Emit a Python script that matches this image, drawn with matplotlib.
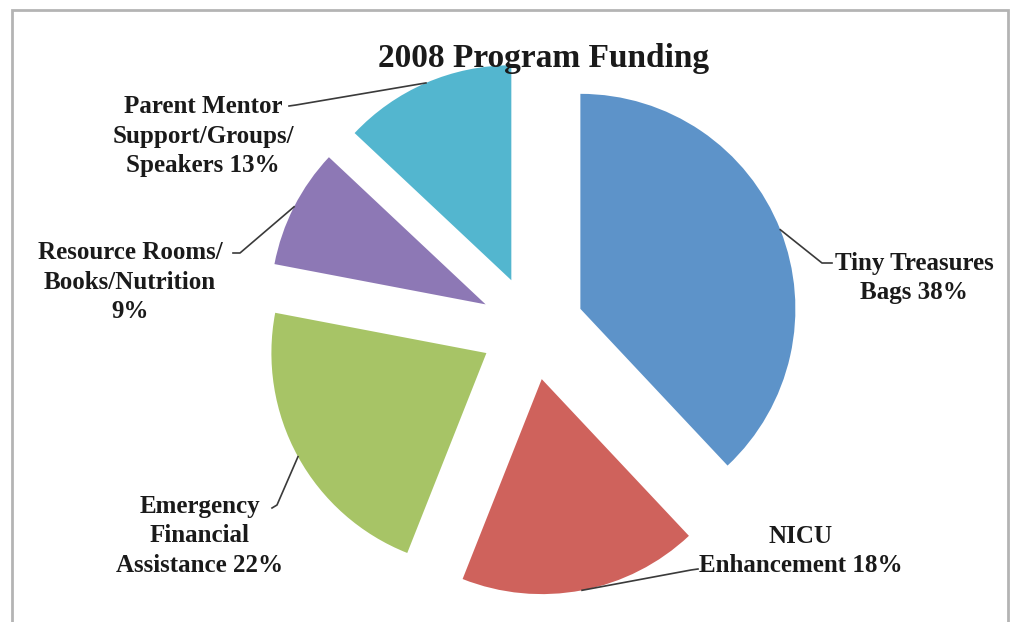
import numpy as np
import matplotlib
matplotlib.use('Agg')
import matplotlib.pyplot as plt
from matplotlib.patches import Rectangle

# 数据
categories = ['Tiny Treasures Bags', 'NICU Enhancement', 'Emergency Financial Assistance',
              'Resource Rooms/Books/Nutrition', 'Parent Mentor Support/Groups/Speakers']
shares = [38, 18, 22, 9, 13]
colors = ['#5D93C9', '#CF625C', '#A7C466', '#8D78B5', '#53B6CF']

W, H = 1016, 622
CX, CY, R = 532, 328, 215   # 饼图中心与半径（像素）


def to_data(px, py):
    return (px - CX) / R, (CY - py) / R


plt.rcParams['font.family'] = ['Liberation Serif', 'DejaVu Serif']

fig = plt.figure(figsize=(W / 100, H / 100), dpi=100)
ax = fig.add_axes([0, 0, 1, 1])

wedges, _ = ax.pie(shares, colors=colors, startangle=90, counterclock=False,
                   explode=[0.242] * len(shares), radius=1,
                   wedgeprops=dict(linewidth=0))
ax.set_xlim(-CX / R, (W - CX) / R)
ax.set_ylim(-(H - CY) / R, CY / R)
ax.axis('off')

# 外框
fig.patches.append(Rectangle((12 / W, -0.1), (1008 - 12) / W, 1.1 - 10 / H,
                             transform=fig.transFigure, fill=False,
                             edgecolor='#b4b4b4', linewidth=2))

ax.text(*to_data(544, 58), '2008 Program Funding', ha='center', va='center',
        fontsize=24, fontweight='bold', color='#1a1a1a')

# 标签位置（像素）与引线折点
labels = [f'Tiny Treasures\nBags {shares[0]}%',
          f'NICU\nEnhancement {shares[1]}%',
          f'Emergency\nFinancial\nAssistance {shares[2]}%',
          f'Resource Rooms/\nBooks/Nutrition\n{shares[3]}%',
          f'Parent Mentor\nSupport/Groups/\nSpeakers {shares[4]}%']
label_pos = [(914, 278), (801, 551), (200, 536), (130, 282), (203, 136)]
leader_pts = [[(822, 263), (832, 263)],
              [(691, 570), (698, 569)],
              [(277, 505), (272, 508)],
              [(240, 253), (233, 253)],
              [(296, 105), (289, 106)]]

for w, lab, pos, pts in zip(wedges, labels, label_pos, leader_pts):
    mid = np.deg2rad((w.theta1 + w.theta2) / 2)
    x0 = w.center[0] + w.r * np.cos(mid)
    y0 = w.center[1] + w.r * np.sin(mid)
    xs = [x0] + [to_data(*p)[0] for p in pts]
    ys = [y0] + [to_data(*p)[1] for p in pts]
    ax.plot(xs, ys, color='#3a3a3a', linewidth=1.2, zorder=3)
    ax.text(*to_data(*pos), lab, ha='center', va='center', fontsize=18,
            fontweight='bold', color='#1a1a1a', linespacing=1.36)

plt.savefig('out.png', dpi=100)
plt.close()
